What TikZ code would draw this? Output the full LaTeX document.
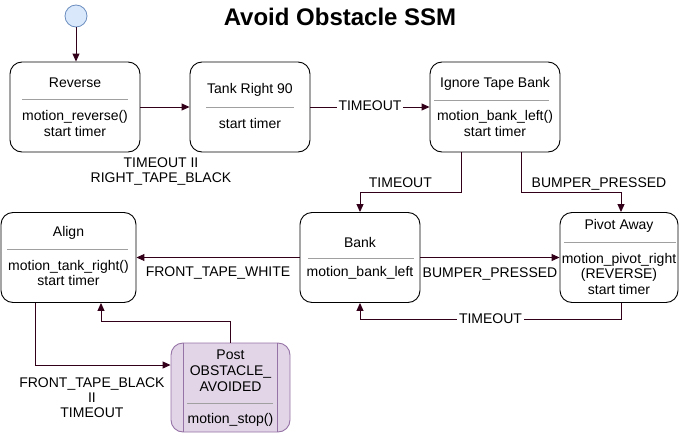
\documentclass[tikz,border=0pt]{standalone}
\usepackage{fontspec}
\setmainfont{Liberation Sans}
\usepackage{xcolor}
\usepackage{tikz}
\usetikzlibrary{arrows.meta,positioning}
\definecolor{ssmArrow}{HTML}{33001A}
\definecolor{ssmSep}{HTML}{A0A0A0}
\definecolor{ssmStartFill}{HTML}{DAE8FC}
\definecolor{ssmStartLine}{HTML}{6C8EBF}
\definecolor{ssmPostFill}{HTML}{E1D5E7}
\definecolor{ssmPostLine}{HTML}{9673A6}
\tikzset{
  statebox/.style={rectangle, rounded corners=12pt, draw=black, fill=white, line width=0.9pt, minimum width=120pt, minimum height=90pt, inner sep=0pt},
  postbox/.style={statebox, draw=ssmPostLine, fill=ssmPostFill},
  startdot/.style={circle, draw=ssmStartLine, fill=ssmStartFill, line width=0.8pt, minimum size=22pt, inner sep=0pt},
  txt/.style={align=center, font=\fontsize{14}{15.5}\selectfont, inner sep=0pt},
  sep/.style={draw=ssmSep, line width=0.8pt},
  arrow/.style={-{Triangle[length=8pt,width=7pt]}, line width=1pt, draw=ssmArrow},
  lbl/.style={font=\fontsize{14}{15}\selectfont, inner sep=2pt, text height=10pt, text depth=2.5pt},
  onlbl/.style={lbl, fill=white},
  mlbl/.style={font=\fontsize{14}{15}\selectfont, align=center}
}

\begin{document}
\begin{tikzpicture}[x=1pt, y=-1pt]
  \useasboundingbox (0,0) rectangle (681,434);
  \node[font=\fontsize{24}{28}\selectfont\bfseries] (title) at (340,17) {Avoid Obstacle SSM};
  \node[startdot] (start) at (76,16) {};

  % states
  \node[statebox, minimum width=130pt] (reverse) at (75,107) {};
  \node[statebox] (tank) at (250,107) {};
  \node[statebox, minimum width=130pt] (ignore) at (495,107) {};
  \node[statebox, minimum width=135pt] (align) at (68.5,257.5) {};
  \node[statebox] (bank) at (360,257.5) {};
  \node[statebox, minimum width=118pt] (pivot) at (619,257.5) {};
  \node[postbox, minimum width=119pt, minimum height=89pt] (post) at (230.5,387.5) {};
  \draw[ssmPostLine, line width=0.9pt] ([xshift=13pt]post.north west) -- ([xshift=13pt]post.south west);
  \draw[ssmPostLine, line width=0.9pt] ([xshift=-13pt]post.north east) -- ([xshift=-13pt]post.south east);

  % state texts
  \node[txt] (reverseT) at (75,83) {Reverse};
  \draw[sep] (22,99) -- (128,99);
  \node[txt] (reverseB) at (75,123.5) {motion\_reverse()\\start timer};

  \node[txt] (tankT) at (250,90) {Tank Right 90};
  \draw[sep] (206,107) -- (294,107);
  \node[txt] (tankB) at (250,123) {start timer};

  \node[txt] (ignoreT) at (495,84) {Ignore Tape Bank};
  \draw[sep] (434,100) -- (549,100);
  \node[txt] (ignoreB) at (495,123.5) {motion\_bank\_left()\\start timer};

  \node[txt] (alignT) at (68.5,233) {Align};
  \draw[sep] (7,249) -- (128,249);
  \node[txt] (alignB) at (68.5,273) {motion\_tank\_right()\\start timer};

  \node[txt] (bankT) at (360,242) {Bank};
  \draw[sep] (308,258) -- (414,258);
  \node[txt] (bankB) at (360,273) {motion\_bank\_left};

  \node[txt] (pivotT) at (619,226) {Pivot Away};
  \draw[sep] (564,242) -- (676,242);
  \node[txt] (pivotB) at (619,273.5) {motion\_pivot\_right\\(REVERSE)\\start timer};

  \node[txt, font=\fontsize{14}{16}\selectfont] (postT) at (230.5,371) {Post\\OBSTACLE\_\\AVOIDED};
  \draw[sep] (187,403) -- (273,403);
  \node[txt] (postB) at (230.5,420) {motion\_stop()};

  % transitions
  \draw[arrow] (start) -- (start |- reverse.north);
  \draw[arrow] (reverse) -- node[mlbl, xshift=-4pt, yshift=-65pt] {TIMEOUT II\\RIGHT\_TAPE\_BLACK} (tank);
  \draw[arrow] (tank) -- node[onlbl] {TIMEOUT} (ignore);
  \draw[arrow] ([xshift=-34pt]ignore.south) -- ++(0,40) -| node[lbl, pos=0.3, above] {TIMEOUT} (bank.north);
  \draw[arrow] ([xshift=26pt]ignore.south) -- ++(0,40) -| node[lbl, pos=0.39, above] {BUMPER\_PRESSED} ([xshift=2pt]pivot.north);
  \draw[arrow] (bank) -- node[lbl, below=7pt] {BUMPER\_PRESSED} (pivot);
  \draw[arrow] ([xshift=2pt]pivot.south) -- ++(0,17) -| node[onlbl, pos=0.25] {TIMEOUT} (bank.south);
  \draw[arrow] (bank) -- node[lbl, below=6pt] {FRONT\_TAPE\_WHITE} (align);
  \draw[arrow] ([xshift=-33.5pt]align.south) |- node[mlbl, pos=0.71, below=9pt] {FRONT\_TAPE\_BLACK\\II\\TIMEOUT} ([yshift=22.5pt]post.west);
  \draw[arrow] (post.north) -- ++(0,-21) -| ([xshift=32.5pt]align.south);
\end{tikzpicture}
\end{document}
